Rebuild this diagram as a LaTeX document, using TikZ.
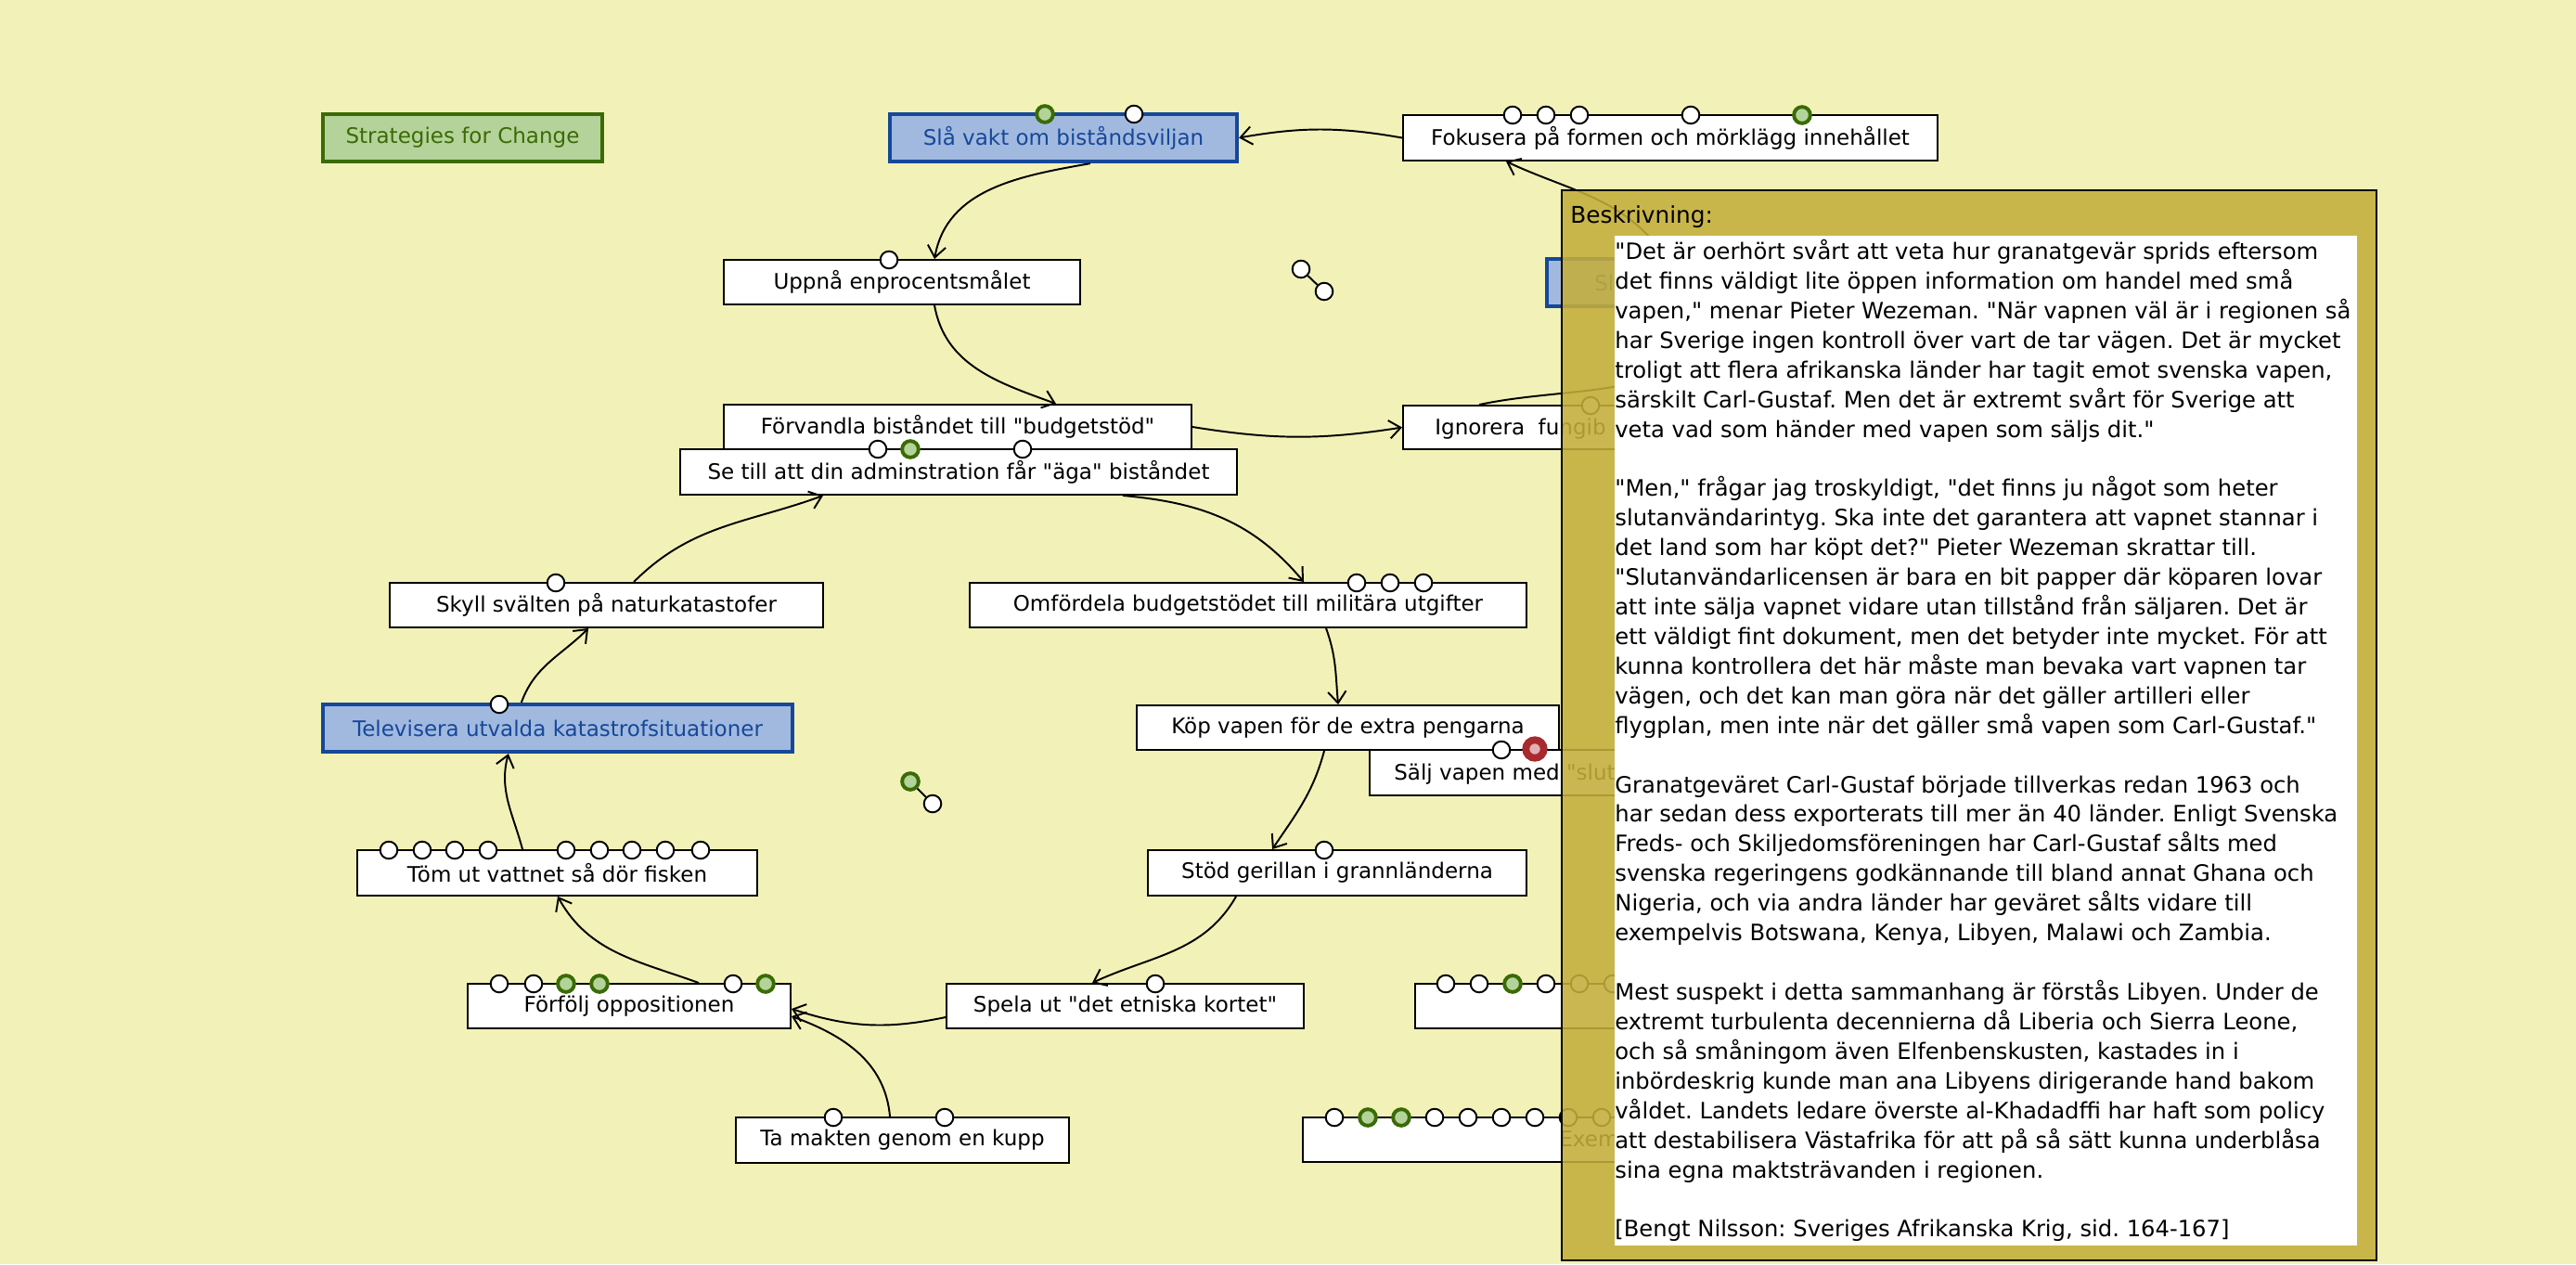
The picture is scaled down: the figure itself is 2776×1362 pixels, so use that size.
\documentclass[tikz,border=0pt]{standalone}
\usepackage{fontspec}
\setmainfont{DejaVu Sans}[Ligatures=TeXOff]
\frenchspacing
\usetikzlibrary{arrows.meta,calc,fit}
\definecolor{canvas}{HTML}{F2F2B8}
\definecolor{panelgold}{HTML}{C4AE3B}
\definecolor{bluefill}{HTML}{A2B9DF}
\definecolor{blueline}{HTML}{15489A}
\definecolor{greenfill}{HTML}{B4D39A}
\definecolor{greenline}{HTML}{3A6B05}
\definecolor{redline}{HTML}{A8292E}
\definecolor{redfill}{HTML}{E2B0B4}
\tikzset{
  card/.style={draw=black, line width=1.1pt, fill=white, inner sep=0pt},
  bluecard/.style={card, draw=blueline, line width=2.4pt, fill=bluefill},
  greencard/.style={card, draw=greenline, line width=2.4pt, fill=greenfill},
  cardtext/.style={inner sep=0pt, font=\fontsize{13}{15}\selectfont},
  bluetext/.style={cardtext, text=blueline},
  greentext/.style={cardtext, text=greenline},
  intext/.style={cardtext, anchor=base west},
  wport/.style={circle, draw=black, line width=1.1pt, fill=white, inner sep=0pt, minimum size=10.5pt},
  gport/.style={wport, draw=greenline, line width=2.2pt, fill=greenfill, minimum size=10pt},
  rport/.style={wport, draw=redline, line width=4.4pt, fill=redfill, minimum size=11pt},
  arr/.style={-{Straight Barb[length=7pt,width=11pt]}, line width=1.1pt},
  panel/.style={draw=black, line width=1.2pt, fill=panelgold, fill opacity=0.88, inner sep=0pt},
  panelbody/.style={fill=white, inner sep=0pt}
}
\begin{document}
\begin{tikzpicture}[x=0.564841pt,y=-0.564841pt]
  \fill[canvas] (0,0) rectangle (2776,1362);
  \useasboundingbox (0,0) rectangle (2776,1362);

  % boxes
  \node[greencard, fit={(348,123) (649,174)}, label={[greentext]center:Strategies for Change}] (strat) {};
  \node[bluecard, fit={(959,123) (1333,174)}, label={[bluetext]center:Slå vakt om biståndsviljan}] (slaa) {};
  \node[card, fit={(1512,124) (2088,173)}, label={[cardtext]center:Fokusera på formen och mörklägg innehållet}] (fok) {};
  \node[bluecard, fit={(1667,279) (2100,330)}] (blu) {};
  \node[intext, text=blueline] (blutext) at (1718,313) {Sl};
  \node[card, fit={(780,280) (1164,328)}, label={[cardtext]center:Uppnå enprocentsmålet}] (uppna) {};
  \node[card, fit={(780,436) (1284,484)}, label={[cardtext]center:Förvandla biståndet till "budgetstöd"}] (forv) {};
  \node[card, fit={(733,484) (1333,533)}, label={[cardtext]center:Se till att din adminstration får "äga" biståndet}] (setill) {};
  \node[card, fit={(1512,437) (2100,484)}] (ign) {};
  \node[intext] (igntext) at (1546,468) {Ignorera\ \ fungib};
  \node[card, fit={(420,628) (887,676)}, label={[cardtext]center:Skyll svälten på naturkatastofer}] (skyll) {};
  \node[card, fit={(1045,628) (1645,676)}, label={[cardtext]center:Omfördela budgetstödet till militära utgifter}] (omf) {};
  \node[bluecard, fit={(348,759) (854,810)}, label={[bluetext]center:Televisera utvalda katastrofsituationer}] (tele) {};
  \node[card, fit={(1225,760) (1680,808)}, label={[cardtext]center:Köp vapen för de extra pengarna}] (kop) {};
  \node[card, fit={(1476,808) (2100,857)}] (salj) {};
  \node[intext] (saljtext) at (1502,840) {Sälj vapen med "slut};
  \node[card, fit={(385,916) (816,965)}, label={[cardtext]center:Töm ut vattnet så dör fisken}] (tom) {};
  \node[card, fit={(1237,916) (1645,965)}, label={[cardtext]center:Stöd gerillan i grannländerna}] (stod) {};
  \node[card, fit={(504,1060) (852,1108)}, label={[cardtext]center:Förfölj oppositionen}] (forf) {};
  \node[card, fit={(1020,1060) (1405,1108)}, label={[cardtext]center:Spela ut "det etniska kortet"}] (spela) {};
  \node[card, fit={(1525,1060) (2100,1108)}] (lowa) {};
  \node[card, fit={(793,1204) (1152,1253)}, label={[cardtext]center:Ta makten genom en kupp}] (takt) {};
  \node[card, fit={(1404,1204) (2100,1252)}] (lowb) {};
  \node[intext] (lowbtext) at (1680,1235) {Exem};

  % ports
  \foreach \px/\st in {1126/gport,1222/wport} \node[\st] (slaa-\px) at (\px,123) {};
  \foreach \px/\st in {1630/wport,1666/wport,1702/wport,1822/wport,1942/gport} \node[\st] (fok-\px) at (\px,124) {};
  \node[wport] (uppna-958) at (958,280) {};
  \foreach \px/\st in {946/wport,981/gport,1102/wport} \node[\st] (setill-\px) at (\px,484) {};
  \node[wport] (ign-1714) at (1714,437) {};
  \node[wport] (skyll-599) at (599,628) {};
  \foreach \px in {1462,1498,1534} \node[wport] (omf-\px) at (\px,628) {};
  \node[wport] (tele-538) at (538,759) {};
  \node[wport] (salj-1618) at (1618,808) {};
  \node[rport] (salj-1654) at (1654,807) {};
  \foreach \px in {419,455,490,526,610,646,681,717,755} \node[wport] (tom-\px) at (\px,916) {};
  \node[wport] (stod-1427) at (1427,916) {};
  \foreach \px/\st in {538/wport,575/wport,610/gport,646/gport,790/wport,825/gport} \node[\st] (forf-\px) at (\px,1060) {};
  \node[wport] (spela-1245) at (1245,1060) {};
  \foreach \px/\st in {1558/wport,1594/wport,1630/gport,1666/wport,1702/wport,1738/wport} \node[\st] (lowa-\px) at (\px,1060) {};
  \foreach \px in {898,1018} \node[wport] (takt-\px) at (\px,1204) {};
  \foreach \px/\st in {1438/wport,1474/gport,1510/gport,1546/wport,1582/wport,1618/wport,1654/wport,1690/wport,1726/wport} \node[\st] (lowb-\px) at (\px,1204) {};

  % loose pairs
  \node[wport] (loosea) at (1402,290) {};
  \node[wport] (looseb) at (1427,314) {};
  \node[gport] (loosec) at (981,842) {};
  \node[wport] (loosed) at (1005,866) {};
  \draw[line width=1.1pt] (loosea) -- (looseb);
  \draw[line width=1.1pt] (loosec) -- (loosed);

  % connectors
  \draw[arr] (fok.west) to[bend right=10] (slaa.east);
  \draw[arr] ($(slaa.south west)+(218,0)$) to[out=190,in=80] ($(uppna.north west)+(228,0)$);
  \draw[arr] ($(uppna.south west)+(228,0)$) to[out=-80,in=160] ($(forv.north west)+(359,0)$);
  \draw[arr] (forv.east) to[bend right=9] (ign.west);
  \draw[arr] ($(ign.north west)+(83,0)$) to[out=12,in=-110] ($(blu.south west)+(190,0)$);
  \draw[arr] ($(blu.north west)+(130,0)$) to[out=125,in=-25] ($(fok.south west)+(112,0)$);
  \draw[arr] ($(setill.south west)+(478,0)$) to[out=-5,in=130] ($(omf.north west)+(361,0)$);
  \draw[arr] ($(omf.south west)+(385,0)$) to[out=-70,in=95] ($(kop.north west)+(218,0)$);
  \draw[arr] ($(kop.south west)+(203,0)$) to[out=-105,in=56] ($(stod.north west)+(135,0)$);
  \draw[arr] ($(stod.south west)+(96,0)$) to[out=240,in=25] ($(spela.north west)+(158,0)$);
  \draw[arr] ($(spela.west)+(0,12)$) to[bend left=15] ($(forf.east)+(0,3)$);
  \draw[arr] ($(takt.north west)+(167,0)$) to[out=95,in=-20] ($(forf.east)+(0,11)$);
  \draw[arr] ($(forf.north west)+(250,0)$) to[out=160,in=-61] ($(tom.south west)+(217,0)$);
  \draw[arr] ($(tom.north west)+(179,0)$) to[out=105,in=-105] ($(tele.south west)+(202,0)$);
  \draw[arr] ($(tele.north west)+(216,0)$) to[out=70,in=-135] ($(skyll.south west)+(215,0)$);
  \draw[arr] ($(skyll.north west)+(264,0)$) to[out=45,in=-160] ($(setill.south west)+(155,0)$);

  % description panel
  \node[panel, fit={(1683,205) (2561,1358)}] (desc) {};
  \node[panelbody, fit={(1740,254) (2540,1342)}] (descbody) {};
  \node[anchor=base west, inner sep=0pt, font=\fontsize{14}{18}\selectfont] (desclabel) at (1692,240) {Beskrivning:};
  \node[anchor=base west, inner sep=0pt] (desctext) at (1740,279.5) {\parbox[t]{480pt}{\fontsize{13.7}{18.03}\selectfont\raggedright
"Det är oerhört svårt att veta hur granatgevär sprids eftersom\\
det finns väldigt lite öppen information om handel med små\\
vapen," menar Pieter Wezeman. "När vapnen väl är i regionen så\\
har Sverige ingen kontroll över vart de tar vägen. Det är mycket\\
troligt att flera afrikanska länder har tagit emot svenska vapen,\\
särskilt Carl-Gustaf. Men det är extremt svårt för Sverige att\\
veta vad som händer med vapen som säljs dit."\\[18.03pt]
"Men," frågar jag troskyldigt, "det finns ju något som heter\\
slutanvändarintyg. Ska inte det garantera att vapnet stannar i\\
det land som har köpt det?" Pieter Wezeman skrattar till.\\
"Slutanvändarlicensen är bara en bit papper där köparen lovar\\
att inte sälja vapnet vidare utan tillstånd från säljaren. Det är\\
ett väldigt fint dokument, men det betyder inte mycket. För att\\
kunna kontrollera det här måste man bevaka vart vapnen tar\\
vägen, och det kan man göra när det gäller artilleri eller\\
flygplan, men inte när det gäller små vapen som Carl-Gustaf."\\[18.03pt]
Granatgeväret Carl-Gustaf började tillverkas redan 1963 och\\
har sedan dess exporterats till mer än 40 länder. Enligt Svenska\\
Freds- och Skiljedomsföreningen har Carl-Gustaf sålts med\\
svenska regeringens godkännande till bland annat Ghana och\\
Nigeria, och via andra länder har geväret sålts vidare till\\
exempelvis Botswana, Kenya, Libyen, Malawi och Zambia.\\[18.03pt]
Mest suspekt i detta sammanhang är förstås Libyen. Under de\\
extremt turbulenta decennierna då Liberia och Sierra Leone,\\
och så småningom även Elfenbenskusten, kastades in i\\
inbördeskrig kunde man ana Libyens dirigerande hand bakom\\
våldet. Landets ledare överste al-Khadadffi har haft som policy\\
att destabilisera Västafrika för att på så sätt kunna underblåsa\\
sina egna maktsträvanden i regionen.\\[18.03pt]
[Bengt Nilsson: Sveriges Afrikanska Krig, sid. 164-167]}};
\end{tikzpicture}
\end{document}
